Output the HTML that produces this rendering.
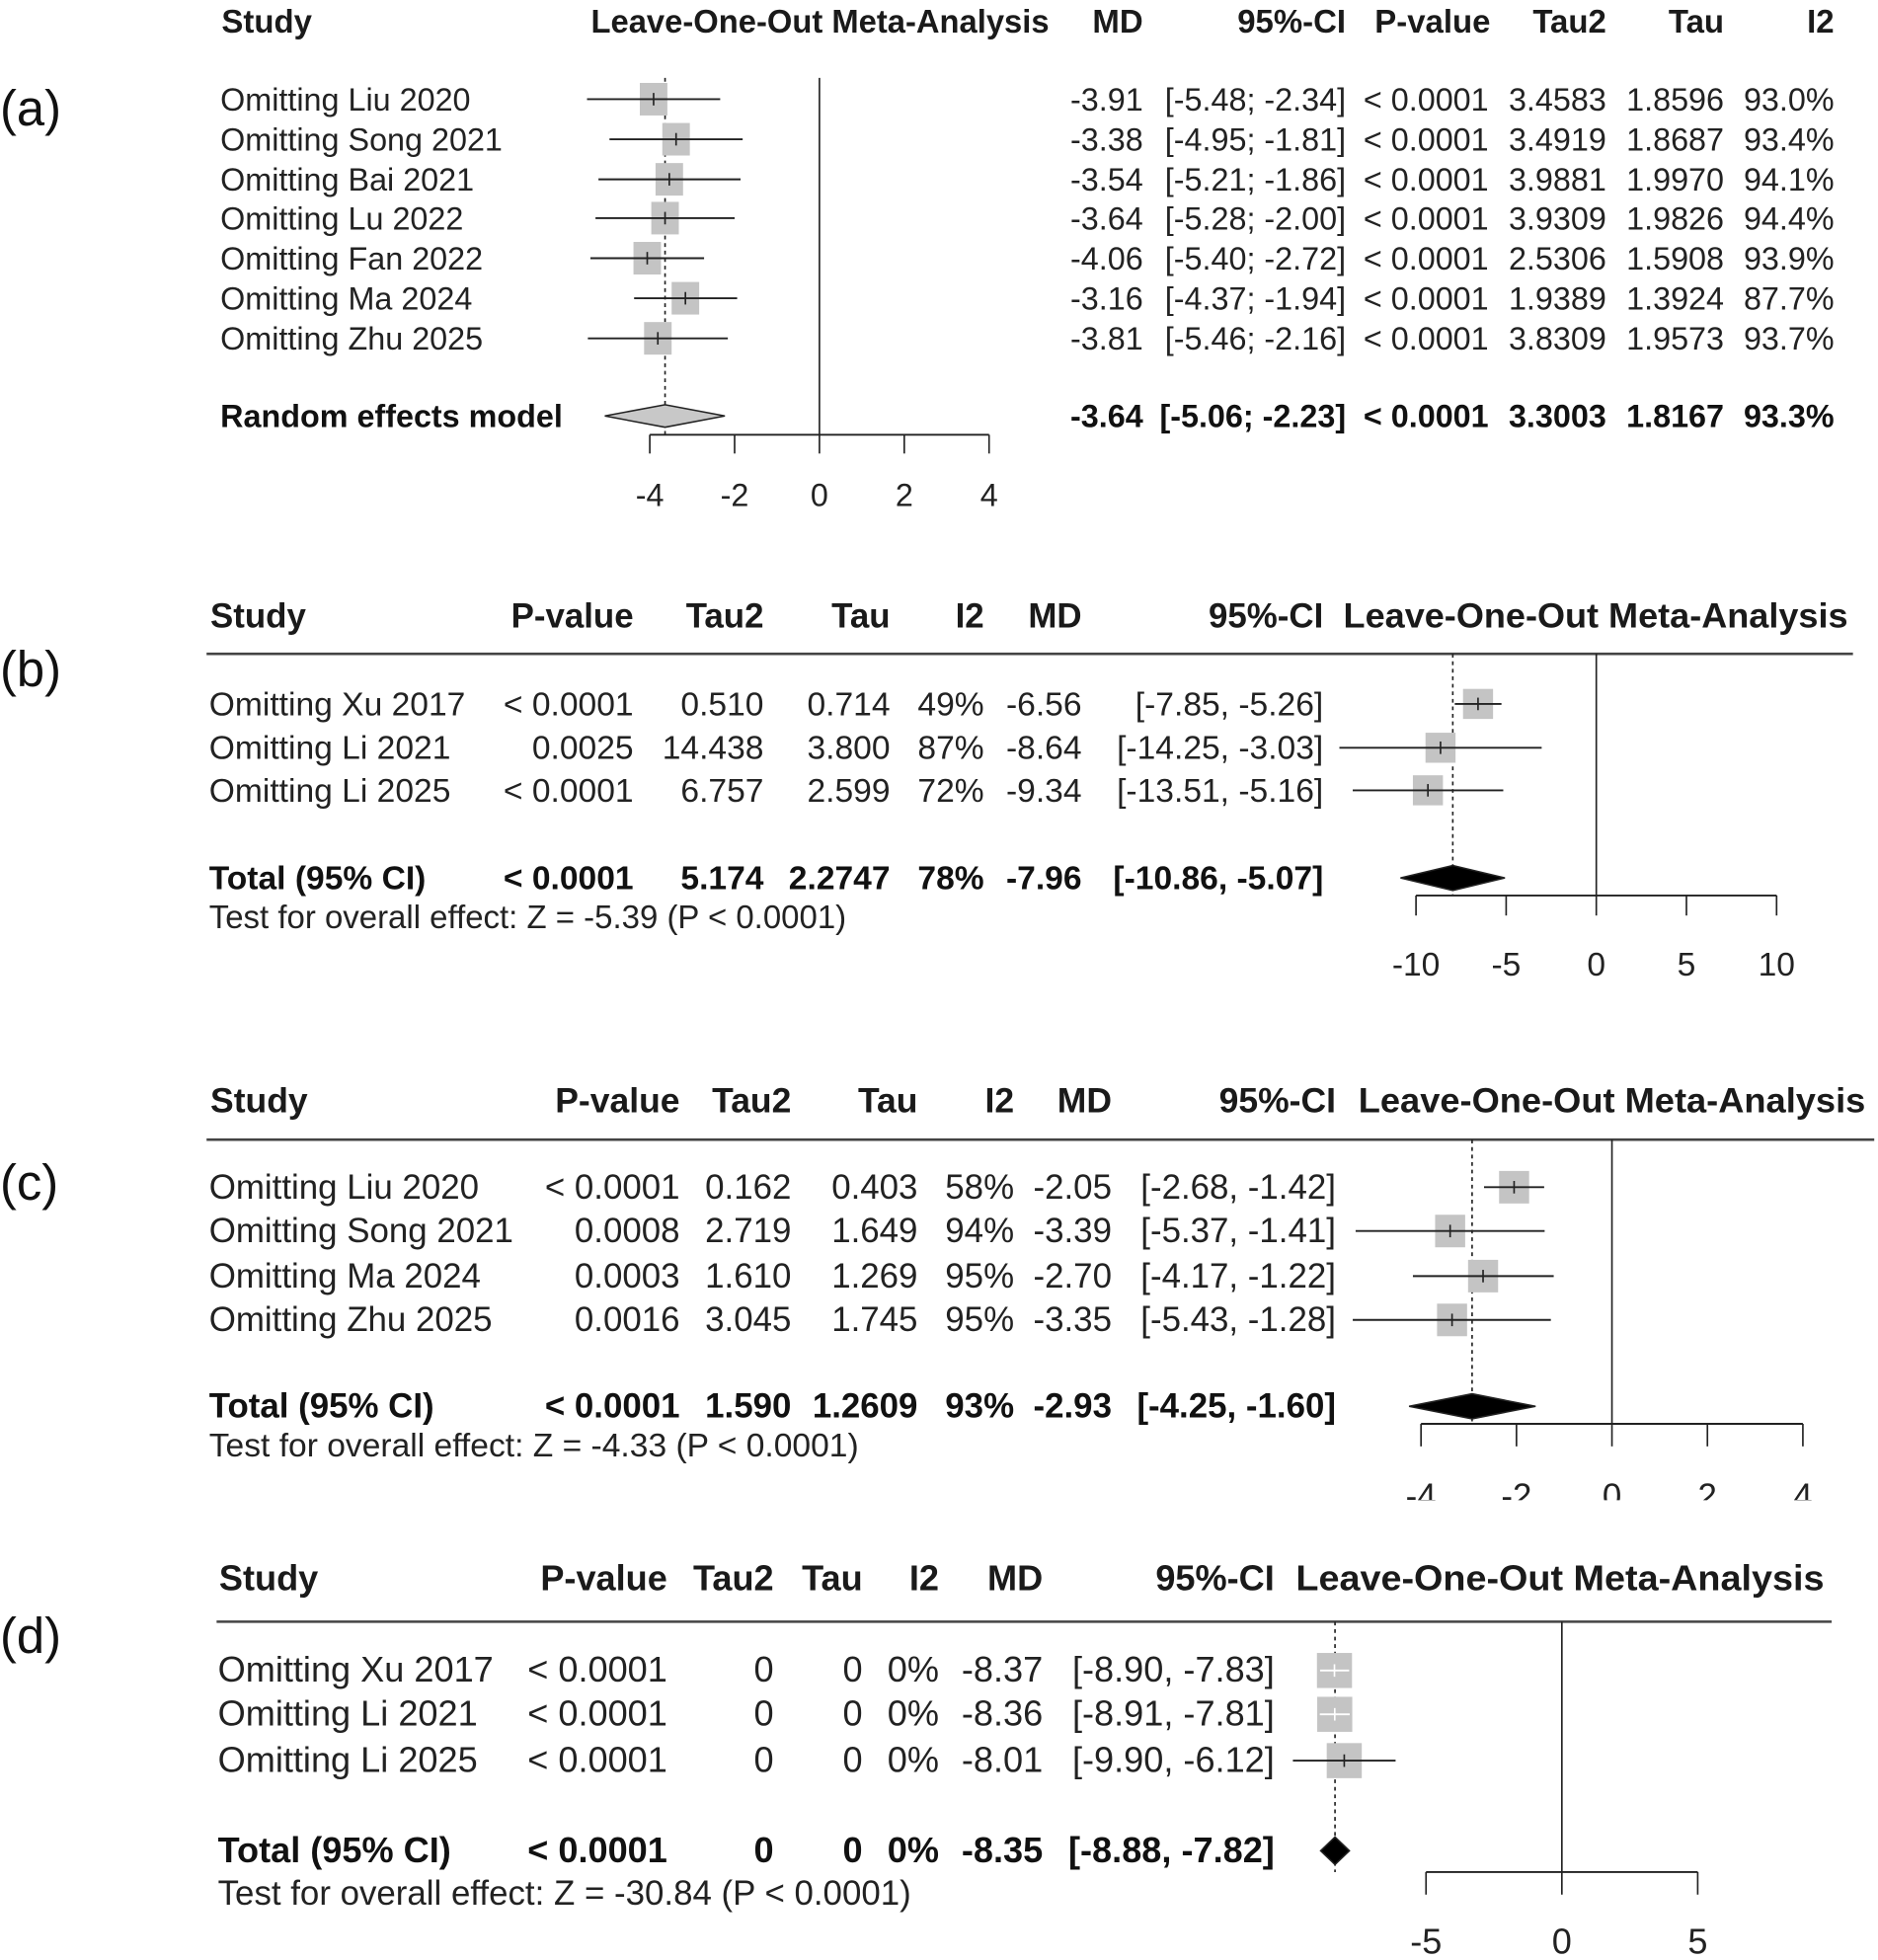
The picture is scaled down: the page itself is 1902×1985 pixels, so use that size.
<!DOCTYPE html>
<html><head><meta charset="utf-8"><style>
html,body{margin:0;padding:0;background:#fff;}
svg{display:block;font-family:"Liberation Sans",Arial,sans-serif;}
.h{font-weight:bold;fill:#1a1a1a}
.t{fill:#222}
.b{font-weight:bold;fill:#111}
.s{fill:#222}
.p{font-size:40px;fill:#111}
</style></head><body>
<svg id="chart" width="1902" height="1985" viewBox="0 0 1500 1565" xmlns="http://www.w3.org/2000/svg"></svg>
<script>
// ---- data (a)
const aStudies=["Omitting Liu 2020","Omitting Song 2021","Omitting Bai 2021","Omitting Lu 2022","Omitting Fan 2022","Omitting Ma 2024","Omitting Zhu 2025"];
const aMD=[-3.91,-3.38,-3.54,-3.64,-4.06,-3.16,-3.81];
const aLo=[-5.48,-4.95,-5.21,-5.28,-5.40,-4.37,-5.46];
const aHi=[-2.34,-1.81,-1.86,-2.00,-2.72,-1.94,-2.16];
const aP=["< 0.0001","< 0.0001","< 0.0001","< 0.0001","< 0.0001","< 0.0001","< 0.0001"];
const aTau2=["3.4583","3.4919","3.9881","3.9309","2.5306","1.9389","3.8309"];
const aTau=["1.8596","1.8687","1.9970","1.9826","1.5908","1.3924","1.9573"];
const aI2=["93.0%","93.4%","94.1%","94.4%","93.9%","87.7%","93.7%"];
const aPooled=[-3.64,-5.06,-2.23];
const aTicks=[-4,-2,0,2,4];
// ---- data (b)
const bStudies=["Omitting Xu 2017","Omitting Li 2021","Omitting Li 2025"];
const bMD=[-6.56,-8.64,-9.34];
const bLo=[-7.85,-14.25,-13.51];
const bHi=[-5.26,-3.03,-5.16];
const bP=["< 0.0001","0.0025","< 0.0001"];
const bTau2=["0.510","14.438","6.757"];
const bTau=["0.714","3.800","2.599"];
const bI2=["49%","87%","72%"];
const bPooled=[-7.96,-10.86,-5.07];
const bTicks=[-10,-5,0,5,10];
// ---- data (c)
const cStudies=["Omitting Liu 2020","Omitting Song 2021","Omitting Ma 2024","Omitting Zhu 2025"];
const cMD=[-2.05,-3.39,-2.70,-3.35];
const cLo=[-2.68,-5.37,-4.17,-5.43];
const cHi=[-1.42,-1.41,-1.22,-1.28];
const cP=["< 0.0001","0.0008","0.0003","0.0016"];
const cTau2=["0.162","2.719","1.610","3.045"];
const cTau=["0.403","1.649","1.269","1.745"];
const cI2=["58%","94%","95%","95%"];
const cPooled=[-2.93,-4.25,-1.60];
const cTicks=[-4,-2,0,2,4];
// ---- data (d)
const dStudies=["Omitting Xu 2017","Omitting Li 2021","Omitting Li 2025"];
const dMD=[-8.37,-8.36,-8.01];
const dLo=[-8.90,-8.91,-9.90];
const dHi=[-7.83,-7.81,-6.12];
const dP=["< 0.0001","< 0.0001","< 0.0001"];
const dTau2=["0","0","0"];
const dTau=["0","0","0"];
const dI2=["0%","0%","0%"];
const dPooled=[-8.35,-8.88,-7.82];
const dTicks=[-5,0,5];

const NS="http://www.w3.org/2000/svg";
const svg=document.getElementById('chart');
function el(tag,attrs,parent){const e=document.createElementNS(NS,tag);for(const k in attrs)e.setAttribute(k,attrs[k]);(parent||svg).appendChild(e);return e;}
function txt(x,y,s,cls,anchor,parent,fs){const e=el('text',{x:x,y:y,class:cls,'text-anchor':anchor||'start'},parent);if(fs)e.setAttribute('font-size',fs);e.textContent=s;return e;}
function fmt(v){return v.toFixed(2);}
function ci(lo,hi,sep){return "["+fmt(lo)+sep+" "+fmt(hi)+"]";}

function drawPlot(cfg){
  const g=el('g',{});
  
  
  const sx=v=>cfg.x0+(v-cfg.tmin)*(cfg.x1-cfg.x0)/(cfg.tmax-cfg.tmin);
  const lab=txt(0,cfg.labelY,cfg.label,'p','start',g);
  
  
  if(cfg.hline){
    const hl=el('line',{x1:cfg.hline[0],x2:cfg.hline[1],y1:cfg.hline[2],y2:cfg.hline[2],stroke:'#444','stroke-width':2},g);
    
    
  }
  cfg.headers.forEach(h=>{const t=txt(h[0],cfg.headY,h[1],'h',h[2],g,cfg.hfs);
    if(h[3]){t.setAttribute('textLength',h[3]);t.setAttribute('lengthAdjust','spacingAndGlyphs');}
    
    });
  const z=el('line',{x1:sx(0),x2:sx(0),y1:cfg.plotTop,y2:cfg.axisY,stroke:'#222','stroke-width':1.3},g);
  
  
  const dl=el('line',{x1:sx(cfg.pooled[0]),x2:sx(cfg.pooled[0]),y1:cfg.plotTop,y2:cfg.axisY,stroke:'#222','stroke-width':1.3,'stroke-dasharray':'3,3'},g);
  
  
  cfg.studies.forEach((s,i)=>{
    const y=cfg.rowY[i];
    const lt=txt(cfg.studyX,y+9,s,'t','start',g,cfg.fs);
    
    
    cfg.cols(i).forEach(c=>{const t=txt(c[0],y+9,c[1],'t','end',g,cfg.fs);
      
      });
    const bx=el('rect',{x:sx(cfg.md[i])-cfg.box/2,y:y-cfg.boxH/2,width:cfg.box,height:cfg.boxH,fill:'#c4c4c4'},g);
    
    
    const inside=cfg.white&&cfg.white[i];
    const ln=el('line',{x1:sx(cfg.lo[i]),x2:sx(cfg.hi[i]),y1:y,y2:y,stroke:inside?'#fff':'#222','stroke-width':1.5},g);
    
    
    const tk=el('line',{x1:sx(cfg.md[i]),x2:sx(cfg.md[i]),y1:y-5,y2:y+5,stroke:inside?'#fff':'#222','stroke-width':1.3},g);
    
    
  });
  const py=cfg.poolY;
  const pl=txt(cfg.studyX,py+9,cfg.poolLabel,'b','start',g,cfg.fs);
  
  
  cfg.poolCols.forEach(c=>{const t=txt(c[0],py+9,c[1],'b','end',g,cfg.fs);
    
    });
  const p=cfg.pooled;
  const dm=el('polygon',{points:`${sx(p[1])},${py} ${sx(p[0])},${py-cfg.dh} ${sx(p[2])},${py} ${sx(p[0])},${py+cfg.dh}`,fill:cfg.dfill,stroke:'#222','stroke-width':1.2},g);
  
  
  if(cfg.test){const t=txt(cfg.studyX,cfg.testY,cfg.test,'s','start',g,cfg.tfs);
    
    }
  const ax=el('line',{x1:sx(cfg.ticks[0]),x2:sx(cfg.ticks[cfg.ticks.length-1]),y1:cfg.axisY,y2:cfg.axisY,stroke:'#222','stroke-width':1.5},g);
  
  
  cfg.ticks.forEach(t=>{
    const tl=el('line',{x1:sx(t),x2:sx(t),y1:cfg.axisY,y2:cfg.axisY+cfg.tickLen,stroke:'#222','stroke-width':1.3},g);
    
    
    const tt=txt(sx(t),cfg.tickLabelY,String(t),'t','middle',g,cfg.fs);
    
    
  });
  if(cfg.clip){const r=el('rect',{x:cfg.clip[0],y:cfg.clip[1],width:cfg.clip[2],height:cfg.clip[3],fill:'#fff'},g);
    
    }
}

drawPlot({name:'panel-a',label:'(a)',labelY:100,headY:26,fs:25.5,hfs:26,
  headers:[[177,'Study','start'],[472,'Leave-One-Out Meta-Analysis','start',366],[913,'MD','end'],[1075,'95%-CI','end'],[1098,'P-value','start'],[1283,'Tau2','end'],[1377,'Tau','end'],[1465,'I2','end']],
  x0:519,x1:790,tmin:-4,tmax:4,plotTop:62,axisY:347,tickLen:15,tickLabelY:404,ticks:aTicks,
  studies:aStudies,md:aMD,lo:aLo,hi:aHi,pooled:aPooled,rowY:[79,111,143,174,206,238,270],studyX:176,box:22,boxH:26,
  cols:i=>[[913,fmt(aMD[i])],[1075,ci(aLo[i],aHi[i],';')],[1189,aP[i]],[1283,aTau2[i]],[1377,aTau[i]],[1465,aI2[i]]],
  poolY:332,poolLabel:'Random effects model',dh:9,dfill:'#c8c8c8',
  poolCols:[[913,fmt(aPooled[0])],[1075,ci(aPooled[1],aPooled[2],';')],[1189,'< 0.0001'],[1283,'3.3003'],[1377,'1.8167'],[1465,'93.3%']]});
drawPlot({name:'panel-b',label:'(b)',labelY:548,headY:501,fs:26.5,hfs:27.5,tfs:26,hline:[165,1480,522],
  headers:[[168,'Study','start'],[506,'P-value','end'],[610,'Tau2','end'],[711,'Tau','end'],[786,'I2','end'],[864,'MD','end'],[1057,'95%-CI','end'],[1073,'Leave-One-Out Meta-Analysis','start',403]],
  x0:1131,x1:1419,tmin:-10,tmax:10,plotTop:522,axisY:715,tickLen:16,tickLabelY:779,ticks:bTicks,
  studies:bStudies,md:bMD,lo:bLo,hi:bHi,pooled:bPooled,rowY:[562,597,631],studyX:167,box:24,boxH:24,
  cols:i=>[[506,bP[i]],[610,bTau2[i]],[711,bTau[i]],[786,bI2[i]],[864,fmt(bMD[i])],[1057,ci(bLo[i],bHi[i],',')]],
  poolY:701,poolLabel:'Total (95% CI)',dh:10,dfill:'#000',
  poolCols:[[506,'< 0.0001'],[610,'5.174'],[711,'2.2747'],[786,'78%'],[864,fmt(bPooled[0])],[1057,ci(bPooled[1],bPooled[2],',')]],
  test:'Test for overall effect: Z = -5.39 (P < 0.0001)',testY:741});
drawPlot({name:'panel-c',label:'(c)',labelY:958,headY:888,fs:27.5,hfs:28,tfs:26.5,hline:[165,1497,910],
  headers:[[168,'Study','start'],[543,'P-value','end'],[632,'Tau2','end'],[733,'Tau','end'],[810,'I2','end'],[888,'MD','end'],[1067,'95%-CI','end'],[1085,'Leave-One-Out Meta-Analysis','start',405]],
  x0:1135,x1:1440,tmin:-4,tmax:4,plotTop:910,axisY:1137,tickLen:18,tickLabelY:1204,ticks:cTicks,
  studies:cStudies,md:cMD,lo:cLo,hi:cHi,pooled:cPooled,rowY:[948,983,1019,1054],studyX:167,box:24,boxH:26,
  cols:i=>[[543,cP[i]],[632,cTau2[i]],[733,cTau[i]],[810,cI2[i]],[888,fmt(cMD[i])],[1067,ci(cLo[i],cHi[i],',')]],
  poolY:1123,poolLabel:'Total (95% CI)',dh:10,dfill:'#000',
  poolCols:[[543,'< 0.0001'],[632,'1.590'],[733,'1.2609'],[810,'93%'],[888,fmt(cPooled[0])],[1067,ci(cPooled[1],cPooled[2],',')]],
  test:'Test for overall effect: Z = -4.33 (P < 0.0001)',testY:1163,clip:[1090,1198,420,40]});
drawPlot({name:'panel-d',label:'(d)',labelY:1320,headY:1270,fs:28.5,hfs:28.5,tfs:27.5,hline:[173,1463,1295],
  headers:[[175,'Study','start'],[533,'P-value','end'],[618,'Tau2','end'],[689,'Tau','end'],[750,'I2','end'],[833,'MD','end'],[1018,'95%-CI','end'],[1035,'Leave-One-Out Meta-Analysis','start',422]],
  x0:1139,x1:1356,tmin:-5,tmax:5,plotTop:1295,axisY:1495,tickLen:18,tickLabelY:1560,ticks:dTicks,
  studies:dStudies,md:dMD,lo:dLo,hi:dHi,pooled:dPooled,rowY:[1334,1369,1406],studyX:174,box:28,boxH:28,white:[true,true,false],
  cols:i=>[[533,dP[i]],[618,dTau2[i]],[689,dTau[i]],[750,dI2[i]],[833,fmt(dMD[i])],[1018,ci(dLo[i],dHi[i],',')]],
  poolY:1478,poolLabel:'Total (95% CI)',dh:11,dfill:'#000',
  poolCols:[[533,'< 0.0001'],[618,'0'],[689,'0'],[750,'0%'],[833,fmt(dPooled[0])],[1018,ci(dPooled[1],dPooled[2],',')]],
  test:'Test for overall effect: Z = -30.84 (P < 0.0001)',testY:1521});
</script>
</body></html>
